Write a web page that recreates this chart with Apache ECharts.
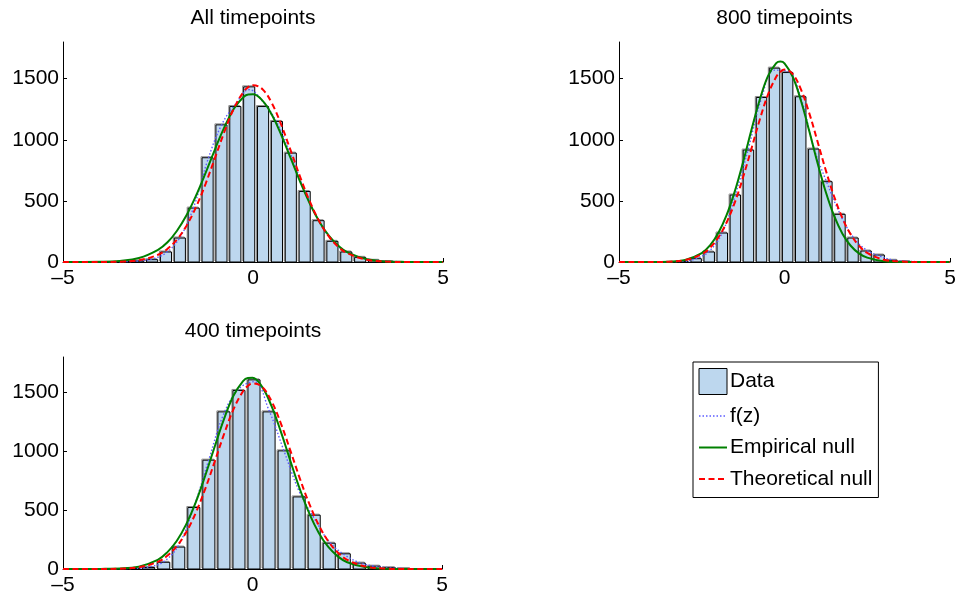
<!DOCTYPE html>
<html><head><meta charset="utf-8">
<script src="https://cdn.jsdelivr.net/npm/echarts@6/dist/echarts.min.js"></script>
<style>html,body{margin:0;padding:0;background:#fff}#c{width:961px;height:600px}</style>
</head><body><div id="c"></div>
<script>
// ---- text ----
const panelTitles = ['All timepoints', '800 timepoints', '400 timepoints'];
const legendNames = ['Data', 'f(z)', 'Empirical null', 'Theoretical null'];
const xTicks = [-5, 0, 5];
const yTicks = [0, 500, 1000, 1500];

// ---- histogram bins (centers, counts) ----
const centers1 = [-3.385, -3.02, -2.655, -2.29, -1.925, -1.56, -1.195, -0.83, -0.465, -0.10, 0.265, 0.63, 0.995, 1.36, 1.725, 2.09, 2.455, 2.82, 3.185, 3.55];
const counts1  = [3, 8, 19, 82, 196, 441, 853, 1122, 1272, 1433, 1272, 1150, 891, 577, 338, 169, 82, 38, 14, 4];

const centers2 = [-3.065, -2.67, -2.275, -1.88, -1.485, -1.09, -0.695, -0.30, 0.095, 0.49, 0.885, 1.28, 1.675, 2.07, 2.465, 2.86, 3.255, 3.65];
const counts2  = [3, 27, 82, 237, 548, 916, 1346, 1586, 1550, 1352, 924, 657, 390, 196, 90, 57, 14, 4];

const centers3 = [-3.136, -2.739, -2.342, -1.945, -1.548, -1.151, -0.754, -0.357, 0.04, 0.437, 0.834, 1.231, 1.628, 2.025, 2.422, 2.819, 3.216, 3.613, 4.01];
const counts3  = [4, 13, 57, 186, 522, 924, 1334, 1516, 1606, 1334, 1003, 612, 457, 219, 129, 50, 24, 11, 3];

// ---- f(z) (dotted) ----
const fzX1 = [-5, -3.385, -3.02, -2.655, -2.29, -1.925, -1.56, -1.195, -0.83, -0.465, -0.10, 0.265, 0.63, 0.995, 1.36, 1.725, 2.09, 2.455, 2.82, 3.185, 3.55, 5];
const fz1  = [0, 3, 9, 24, 75, 200, 450, 830, 1120, 1290, 1410, 1310, 1140, 880, 585, 340, 172, 84, 38, 15, 5, 0];
const fzX2 = [-5, -3.065, -2.67, -2.275, -1.88, -1.485, -1.09, -0.695, -0.30, 0.095, 0.49, 0.885, 1.28, 1.675, 2.07, 2.465, 2.86, 3.255, 3.65, 5];
const fz2  = [0, 5, 28, 88, 240, 550, 930, 1340, 1570, 1560, 1345, 935, 650, 395, 205, 100, 50, 18, 6, 0];
const fzX3 = [-5, -3.136, -2.739, -2.342, -1.945, -1.548, -1.151, -0.754, -0.357, 0.04, 0.437, 0.834, 1.231, 1.628, 2.025, 2.422, 2.819, 3.216, 3.613, 4.01, 5];
const fz3  = [0, 5, 17, 62, 205, 525, 930, 1320, 1530, 1590, 1345, 1000, 660, 430, 232, 122, 55, 24, 10, 3, 0];

// ---- null curves (read at these z values) ----
const curveX = [-5, -4, -3.5, -3, -2.5, -2.25, -2, -1.75, -1.5, -1.25, -1, -0.75, -0.5, -0.25, -0.125, 0, 0.25, 0.5, 0.75, 1, 1.25, 1.5, 1.75, 2, 2.25, 2.5, 3, 3.5, 4, 5];
const empirical1   = [0, 2, 9, 33, 100, 161, 256, 382, 542, 727, 922, 1106, 1256, 1350, 1371, 1372, 1320, 1202, 1035, 843, 650, 475, 328, 214, 132, 77, 22, 5, 1, 0];
const theoretical1 = [0, 0, 3, 15, 59, 108, 184, 297, 449, 638, 852, 1068, 1258, 1392, 1431, 1447, 1413, 1297, 1117, 905, 688, 492, 330, 208, 123, 69, 18, 4, 0, 0];
const empirical2   = [0, 0, 3, 17, 73, 136, 237, 383, 580, 819, 1079, 1326, 1521, 1628, 1641, 1626, 1515, 1317, 1069, 809, 571, 377, 232, 133, 71, 36, 7, 1, 0, 0];
const theoretical2 = [0, 0, 3, 16, 64, 117, 201, 323, 488, 695, 926, 1162, 1369, 1515, 1556, 1574, 1537, 1410, 1216, 984, 748, 535, 359, 226, 134, 74, 19, 4, 0, 0];
const empirical3   = [0, 1, 4, 20, 78, 141, 238, 379, 564, 790, 1036, 1275, 1473, 1596, 1622, 1623, 1548, 1385, 1164, 917, 678, 470, 306, 187, 107, 57, 14, 3, 0, 0];
const theoretical3 = [0, 0, 3, 15, 61, 112, 193, 312, 475, 678, 909, 1146, 1357, 1509, 1554, 1576, 1547, 1426, 1235, 1005, 768, 552, 372, 236, 140, 78, 20, 4, 0, 0];

// ---- build chart ----
const FONT = '"Liberation Sans", Arial, Helvetica, sans-serif';
const BAR_FILL = '#BDD7EE';
const FZ_STYLE = {color: '#5c5cff', width: 1.4, type: [1.5, 2]};
const EMP_STYLE = {color: '#008000', width: 2};
const THEO_STYLE = {color: '#ff0000', width: 2, type: [6, 3.5]};
const panels = [
  {centers: centers1, counts: counts1, fzX: fzX1, fz: fz1, emp: empirical1, theo: theoretical1},
  {centers: centers2, counts: counts2, fzX: fzX2, fz: fz2, emp: empirical2, theo: theoretical2},
  {centers: centers3, counts: counts3, fzX: fzX3, fz: fz3, emp: empirical3, theo: theoretical3}
];
const grids = [
  {left: 63, top: 42, width: 380, height: 220},
  {left: 619, top: 42, width: 331, height: 220},
  {left: 63, top: 357, width: 379, height: 212}
];
const titlePos = [[253, 18], [784.5, 18], [253, 331]];

const zip = (xs, ys) => xs.map((x, i) => [x, ys[i]]);

const xAxes = [], yAxes = [], series = [];
panels.forEach((p, i) => {
  xAxes.push({
    type: 'value', gridIndex: i, min: -5, max: 5, interval: 5,
    axisLine: {show: true, onZero: false, lineStyle: {color: '#000', width: 1}},
    axisTick: {show: true, inside: true, length: 4, customValues: xTicks, lineStyle: {color: '#000'}},
    axisLabel: {customValues: xTicks, color: '#000', fontSize: 21, fontFamily: FONT, margin: 6,
      formatter: v => v < 0 ? '\u2013' + Math.abs(v) : String(v)},
    splitLine: {show: false}
  });
  yAxes.push({
    type: 'value', gridIndex: i, min: 0, max: 1800, interval: 500,
    axisLine: {show: true, onZero: false, lineStyle: {color: '#000', width: 1}},
    axisTick: {show: true, inside: true, length: 4, customValues: yTicks, lineStyle: {color: '#000'}},
    axisLabel: {customValues: yTicks, color: '#000', fontSize: 21, fontFamily: FONT, margin: 4,
      formatter: v => String(v)},
    splitLine: {show: false}
  });
  const spacing = p.centers[1] - p.centers[0];
  const bw = spacing * 0.8;
  series.push({
    name: 'Data', type: 'custom', xAxisIndex: i, yAxisIndex: i,
    itemStyle: {color: BAR_FILL, borderColor: '#000', borderWidth: 1},
    encode: {x: 0, y: 1},
    data: zip(p.centers, p.counts),
    renderItem: (params, api) => {
      const x = api.value(0), y = api.value(1);
      const a = api.coord([x - bw / 2, y]);
      const b = api.coord([x + bw / 2, 0]);
      const w = b[0] - a[0], h = b[1] - a[1];
      return {type: 'group', children: [
        {type: 'rect', shape: {x: a[0] - 1, y: a[1] - 1, width: w, height: h},
          style: {fill: 'none', stroke: '#8c8c8c', lineWidth: 1}},
        {type: 'rect', shape: {x: a[0], y: a[1], width: w, height: h},
          style: {fill: BAR_FILL, stroke: '#000', lineWidth: 1}}
      ]};
    }
  });
  series.push({
    name: 'f(z)', type: 'line', xAxisIndex: i, yAxisIndex: i, symbol: 'none', smooth: 0.4,
    lineStyle: FZ_STYLE, itemStyle: {color: FZ_STYLE.color},
    data: zip(p.fzX, p.fz)
  });
  series.push({
    name: 'Empirical null', type: 'line', xAxisIndex: i, yAxisIndex: i, symbol: 'none', smooth: 0.4,
    lineStyle: EMP_STYLE, itemStyle: {color: EMP_STYLE.color},
    data: zip(curveX, p.emp)
  });
  series.push({
    name: 'Theoretical null', type: 'line', xAxisIndex: i, yAxisIndex: i, symbol: 'none', smooth: 0.4,
    lineStyle: THEO_STYLE, itemStyle: {color: THEO_STYLE.color},
    data: zip(curveX, p.theo)
  });
});

const hiddenSymbol = {color: 'rgba(0,0,0,0)', borderColor: 'rgba(0,0,0,0)', borderWidth: 0};

const chart = echarts.init(document.getElementById('c'), null, {renderer: 'canvas'});
chart.setOption({
  animation: false,
  backgroundColor: '#fff',
  textStyle: {fontFamily: FONT},
  grid: grids,
  xAxis: xAxes,
  yAxis: yAxes,
  graphic: panelTitles.map((t, i) => ({
    type: 'text', x: titlePos[i][0], y: titlePos[i][1], silent: true,
    style: {text: t, align: 'center', verticalAlign: 'middle', fill: '#000', font: '21px ' + FONT}
  })),
  legend: {
    orient: 'vertical', left: 693, top: 362,
    padding: [6, 6, 8, 5], itemWidth: 28, itemHeight: 26, itemGap: 10.5,
    borderColor: '#000', borderWidth: 1, backgroundColor: '#fff',
    textStyle: {fontSize: 21, color: '#000', fontFamily: FONT, padding: [0, 0, 0, -2]},
    data: [
      {name: legendNames[0], icon: 'rect', itemStyle: {color: BAR_FILL, borderColor: '#000', borderWidth: 1}},
      {name: legendNames[1], itemStyle: hiddenSymbol, lineStyle: FZ_STYLE},
      {name: legendNames[2], itemStyle: hiddenSymbol, lineStyle: EMP_STYLE},
      {name: legendNames[3], itemStyle: hiddenSymbol, lineStyle: THEO_STYLE}
    ]
  },
  series: series
});
</script>
</body></html>
